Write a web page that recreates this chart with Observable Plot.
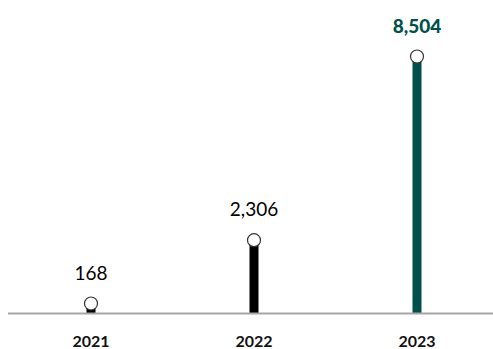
<!DOCTYPE html>
<html><head><meta charset="utf-8">
<script src="https://cdn.jsdelivr.net/npm/d3@7"></script>
<script src="https://cdn.jsdelivr.net/npm/@observablehq/plot@0.6"></script>
<style>body{margin:0;background:#fff;overflow:hidden}</style>
</head><body><div id="chart"></div>
<script>
const years = ["2021", "2022", "2023"];
const values = [168, 2306, 8504];
const labels = ["168", "2,306", "8,504"];
const colors = ["#000000", "#000000", "#00514c"];
const weights = ["normal", "normal", "bold"];

const data = years.map((y, i) => ({year: y, value: values[i], label: labels[i], color: colors[i], weight: weights[i]}));
const font = "Lato, 'Noto Sans', sans-serif";

const chart = Plot.plot({
  width: 493, height: 349,
  marginLeft: 8, marginRight: 0, marginTop: 0, marginBottom: 36,
  style: {fontFamily: font, background: "#fff"},
  x: {type: "band", domain: years, range: [8.5, 497.5], padding: 0, axis: null},
  y: {domain: [0, 8504], range: [313, 61], axis: null},
  marks: [
    Plot.ruleX(data, {x: "year", y1: 0, y2: "value", stroke: d => d.color, strokeWidth: 9}),
    Plot.ruleY([0], {stroke: "#a6a6a6", strokeWidth: 2}),
    Plot.dot(data, {x: "year", y: "value", dy: -5, r: 6.5, fill: "#fff", stroke: "#333", strokeWidth: 1.2}),
    Plot.text(data.filter(d => d.weight === "normal"), {x: "year", y: "value", text: "label", dy: -35, fontSize: 19, fill: "#000"}),
    Plot.text(data.filter(d => d.weight === "bold"), {x: "year", y: "value", text: "label", dy: -35, fontSize: 19, fontWeight: 900, fill: d => d.color}),
    Plot.text(data, {x: "year", y: 0, text: "year", dy: 28, fontSize: 16, fontWeight: "bold", fill: "#111"})
  ]
});
document.getElementById("chart").appendChild(chart);
</script></body></html>
